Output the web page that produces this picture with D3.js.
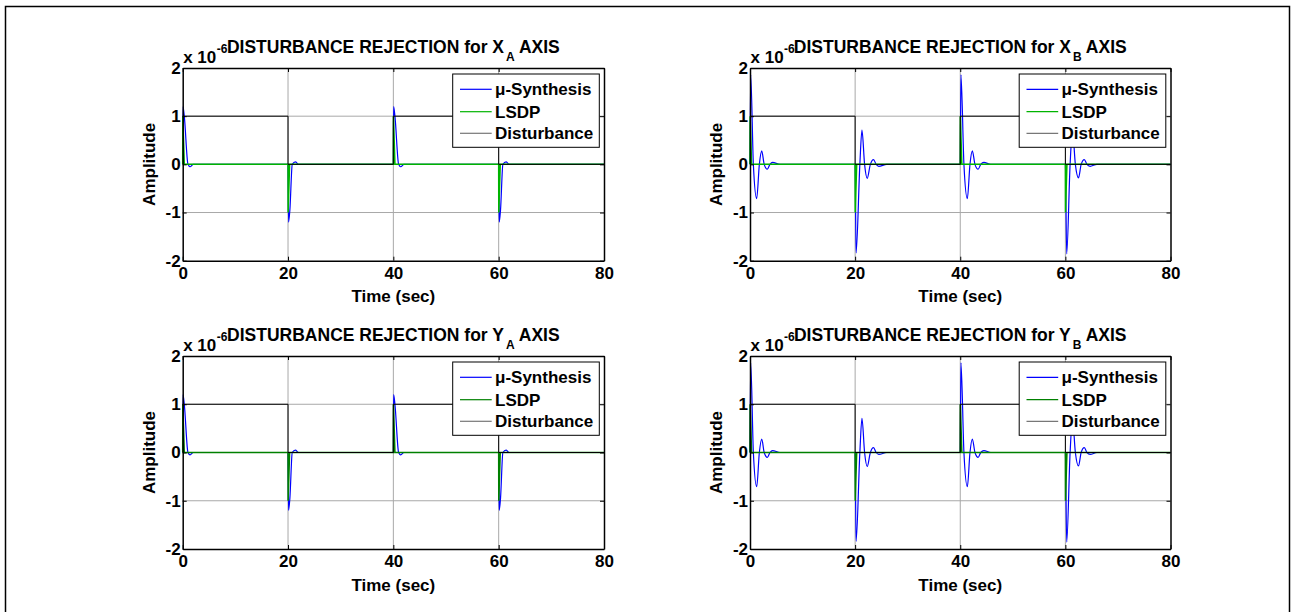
<!DOCTYPE html>
<html>
<head>
<meta charset="utf-8">
<script src="https://cdn.jsdelivr.net/npm/d3@7"></script>
<style>
  body { margin: 0; background: #fff; }
  svg text { font-family: "Liberation Sans", Arial, sans-serif; font-weight: bold; fill: #000; }
</style>
</head>
<body>
<div id="chart"></div>
<script>
// ejes y etiquetas
const xTicks = [0, 20, 40, 60, 80];
const yTicks = [-2, -1, 0, 1, 2];
const axisNames = ["X", "X", "Y", "Y"];
const axisSubs = ["A", "B", "A", "B"];
const seriesNames = ["\u03bc-Synthesis", "LSDP", "Disturbance"];

// mu-synthesis, ejes A (tiempo en s, amplitud x 1e-6)
const muATime = [0, 0.05, 0.3, 1.0, 1.4, 2.0,
  20, 20.1, 20.35, 20.8, 21.4, 22.0,
  40, 40.05, 40.3, 41.0, 41.4, 42.0,
  60, 60.1, 60.35, 60.8, 61.4, 62.0, 80];
const muAValue = [0, 1.2, 1.0, 0, -0.05, 0,
  0, -1.2, -0.95, 0, 0.05, 0,
  0, 1.2, 1.0, 0, -0.05, 0,
  0, -1.2, -0.95, 0, 0.05, 0, 0];

// mu-synthesis, ejes B
const muBTime = [0, 0.13, 0.64, 1.27, 1.78, 2.23, 2.7, 3.3, 3.8, 4.3, 5.7,
  20, 20.18, 20.9, 21.3, 21.8, 22.3, 22.9, 23.5, 24.0, 24.5, 26,
  40, 40.13, 40.7, 41.35, 41.85, 42.3, 42.8, 43.4, 43.9, 44.5, 45.8,
  60, 60.25, 60.9, 61.35, 61.9, 62.5, 63.0, 63.6, 64.1, 64.7, 66, 80];
const muBValue = [0, 1.86, 0, -0.71, 0, 0.28, 0, -0.1, 0, 0.04, 0,
  0, -1.84, 0, 0.71, 0, -0.29, 0, 0.1, 0, -0.04, 0,
  0, 1.86, 0, -0.71, 0, 0.28, 0, -0.1, 0, 0.04, 0,
  0, -1.86, 0, 0.71, 0, -0.28, 0, 0.1, 0, -0.04, 0, 0];

// LSDP (igual en los cuatro ejes)
const lsdpTime = [0, 0.02, 0.3, 20, 20.02, 20.3, 40, 40.02, 40.3, 60, 60.02, 60.3, 80];
const lsdpValue = [0, 1, 0, 0, -1, 0, 0, 1, 0, 0, -1, 0, 0];

// perturbacion escalon
const distTime = [0, 20, 20, 40, 40, 60, 60, 80];
const distValue = [1, 1, 0, 0, 1, 1, 0, 0];

const width = 1299, height = 612;
const svg = d3.select("#chart").append("svg")
  .attr("width", width).attr("height", height);

// marco exterior
svg.append("rect")
  .attr("x", 5.5).attr("y", 6.5).attr("width", 1284).attr("height", 620)
  .attr("fill", "none").attr("stroke", "#000").attr("stroke-width", 1.5);

const panels = [
  { left: 182.7, right: 604, top: 68, bottom: 260.7, mu: [muATime, muAValue], green: "#00b400" },
  { left: 750, right: 1170.5, top: 68, bottom: 260.7, mu: [muBTime, muBValue], green: "#00b400" },
  { left: 182.7, right: 604, top: 356, bottom: 549, mu: [muATime, muAValue], green: "#008000" },
  { left: 750, right: 1170.5, top: 356, bottom: 549, mu: [muBTime, muBValue], green: "#008000" }
];

const zip = (t, v) => t.map((d, i) => [d, v[i]]);
const fmt = d => String(d); // guion normal como en MATLAB

panels.forEach((p, k) => {
  const x = d3.scaleLinear().domain([0, 80]).range([p.left, p.right]);
  const y = d3.scaleLinear().domain([-2, 2]).range([p.bottom, p.top]);
  const g = svg.append("g");

  // rejilla
  g.append("g").selectAll("line").data(xTicks.slice(1, -1)).join("line")
    .attr("x1", d => x(d)).attr("x2", d => x(d))
    .attr("y1", p.top).attr("y2", p.bottom)
    .attr("stroke", "#a8a8a8").attr("stroke-width", 1);
  g.append("g").selectAll("line").data(yTicks.slice(1, -1)).join("line")
    .attr("y1", d => y(d)).attr("y2", d => y(d))
    .attr("x1", p.left).attr("x2", p.right)
    .attr("stroke", "#a8a8a8").attr("stroke-width", 1);

  // series
  const line = d3.line().x(d => x(d[0])).y(d => y(d[1]));
  g.append("path").datum(zip(p.mu[0], p.mu[1]))
    .attr("d", line.curve(d3.curveMonotoneX))
    .attr("fill", "none").attr("stroke", "#0000ff").attr("stroke-width", 1.2);
  g.append("path").datum(zip(lsdpTime, lsdpValue))
    .attr("d", line.curve(d3.curveLinear))
    .attr("fill", "none").attr("stroke", p.green).attr("stroke-width", 1.5);
  g.append("path").datum(zip(distTime, distValue))
    .attr("d", line.curve(d3.curveLinear))
    .attr("fill", "none").attr("stroke", "#000").attr("stroke-width", 1);

  // ejes con ticks hacia dentro en los cuatro lados
  const axB = g.append("g").attr("transform", `translate(0,${p.bottom})`)
    .call(d3.axisBottom(x).tickValues(xTicks).tickFormat(fmt).tickSizeInner(-4).tickSizeOuter(0).tickPadding(8));
  const axT = g.append("g").attr("transform", `translate(0,${p.top})`)
    .call(d3.axisTop(x).tickValues(xTicks).tickSizeInner(-4).tickSizeOuter(0).tickFormat(""));
  const axL = g.append("g").attr("transform", `translate(${p.left},0)`)
    .call(d3.axisLeft(y).tickValues(yTicks).tickFormat(fmt).tickSizeInner(-4).tickSizeOuter(0).tickPadding(3));
  const axR = g.append("g").attr("transform", `translate(${p.right},0)`)
    .call(d3.axisRight(y).tickValues(yTicks).tickSizeInner(-4).tickSizeOuter(0).tickFormat(""));
  [axB, axT, axL, axR].forEach(a => {
    a.select(".domain").attr("stroke", "#000").attr("stroke-width", 1.5);
    a.selectAll(".tick line").attr("stroke", "#000");
    a.selectAll("text").attr("font-size", 17).attr("font-family", null);
  });
  axB.selectAll("text").attr("dy", "0.71em").attr("y", 6);
  axL.selectAll("text").attr("x", -2);

  // etiquetas
  g.append("text").attr("x", (p.left + p.right) / 2).attr("y", p.bottom + 41.6)
    .attr("text-anchor", "middle").attr("font-size", 17).text("Time (sec)");
  g.append("text")
    .attr("transform", `translate(${p.left - 28},${(p.top + p.bottom) / 2}) rotate(-90)`)
    .attr("text-anchor", "middle").attr("font-size", 17).text("Amplitude");

  // multiplicador x 10^-6
  g.append("text").attr("x", p.left + 0.5).attr("y", p.top - 4.7)
    .attr("font-size", 17).text("x 10");
  g.append("text").attr("x", p.left + 34).attr("y", p.top - 14.7)
    .attr("font-size", 12).text("-6");

  // titulo con subindice
  const title = g.append("text").attr("x", (p.left + p.right) / 2).attr("y", p.top - 14.7)
    .attr("text-anchor", "middle").attr("font-size", 17.5);
  title.append("tspan").text(`DISTURBANCE REJECTION for ${axisNames[k]}`);
  title.append("tspan").attr("dy", 8).attr("font-size", 12).attr("dx", 2).text(axisSubs[k]);
  title.append("tspan").attr("dy", -8).text(" AXIS");

  // leyenda
  const lx = p.right - 151.3, ly = p.top + 6;
  const leg = g.append("g").attr("transform", `translate(${lx},${ly})`);
  leg.append("rect").attr("width", 146.6).attr("height", 73.3)
    .attr("fill", "#fff").attr("stroke", "#000").attr("stroke-width", 1);
  const legColors = ["#0000ff", p.green, "#777"];
  const rowY = [15.3, 37.7, 59.3];
  seriesNames.forEach((name, i) => {
    leg.append("line").attr("x1", 7.3).attr("x2", 39).attr("y1", rowY[i]).attr("y2", rowY[i])
      .attr("stroke", legColors[i]).attr("stroke-width", 1.2);
    leg.append("text").attr("x", 42.3).attr("y", rowY[i]).attr("dy", "0.36em")
      .attr("font-size", 17).text(name);
  });
});
</script>
</body>
</html>
